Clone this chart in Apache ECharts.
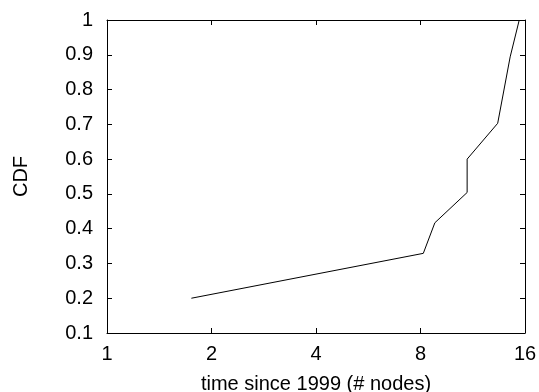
<!DOCTYPE html>
<html>
<head>
<meta charset="utf-8">
<script src="https://cdn.jsdelivr.net/npm/echarts@6/dist/echarts.min.js"></script>
<style>
  html, body { margin: 0; padding: 0; background: #fff; }
  #chart { width: 539px; height: 392px; }
</style>
</head>
<body>
<div id="chart"></div>
<script>
// values
const nodes = [1.75, 8.15, 8.8, 10.9, 10.9, 13.35, 14.5, 15.4]
const cdf = [0.2, 0.329, 0.417, 0.504, 0.6, 0.703, 0.894, 1.0]

const font = { color: '#000', fontFamily: 'Liberation Sans, Arial, sans-serif', fontSize: 20 }

const xBase = {
  type: 'log',
  logBase: 2,
  min: 1,
  max: 16,
  axisLine: { show: true, lineStyle: { color: '#000', width: 1 } },
  axisTick: { show: true, inside: true, length: 5, lineStyle: { color: '#000' } },
  splitLine: { show: false },
  minorTick: { show: false }
}
const yBase = {
  type: 'value',
  min: 0.1,
  max: 1,
  interval: 0.1,
  axisLine: { show: true, lineStyle: { color: '#000', width: 1 } },
  axisTick: { show: true, inside: true, length: 5, lineStyle: { color: '#000' } },
  splitLine: { show: false }
}

const chart = echarts.init(document.getElementById('chart'))
chart.setOption({
  animation: false,
  grid: { left: 107, right: 14, top: 20, bottom: 59, outerBoundsMode: 'none', containLabel: false },
  xAxis: [
    {
      ...xBase,
      position: 'bottom',
      name: 'time since 1999 (# nodes)',
      nameLocation: 'middle',
      nameGap: 41,
      nameTextStyle: font,
      axisLabel: { ...font, margin: 11, formatter: (v) => String(Math.round(v)) }
    },
    { ...xBase, position: 'top', axisLabel: { show: false } }
  ],
  yAxis: [
    {
      ...yBase,
      position: 'left',
      name: 'CDF',
      nameLocation: 'middle',
      nameGap: 76,
      nameTextStyle: font,
      axisLabel: { ...font, margin: 14, formatter: (v) => String(Math.round(v * 10) / 10) }
    },
    { ...yBase, position: 'right', axisLabel: { show: false } }
  ],
  series: [
    {
      type: 'line',
      xAxisIndex: 0,
      yAxisIndex: 0,
      data: nodes.map((x, i) => [x, cdf[i]]),
      symbol: 'none',
      lineStyle: { color: '#000', width: 1 }
    }
  ]
})
</script>
</body>
</html>
